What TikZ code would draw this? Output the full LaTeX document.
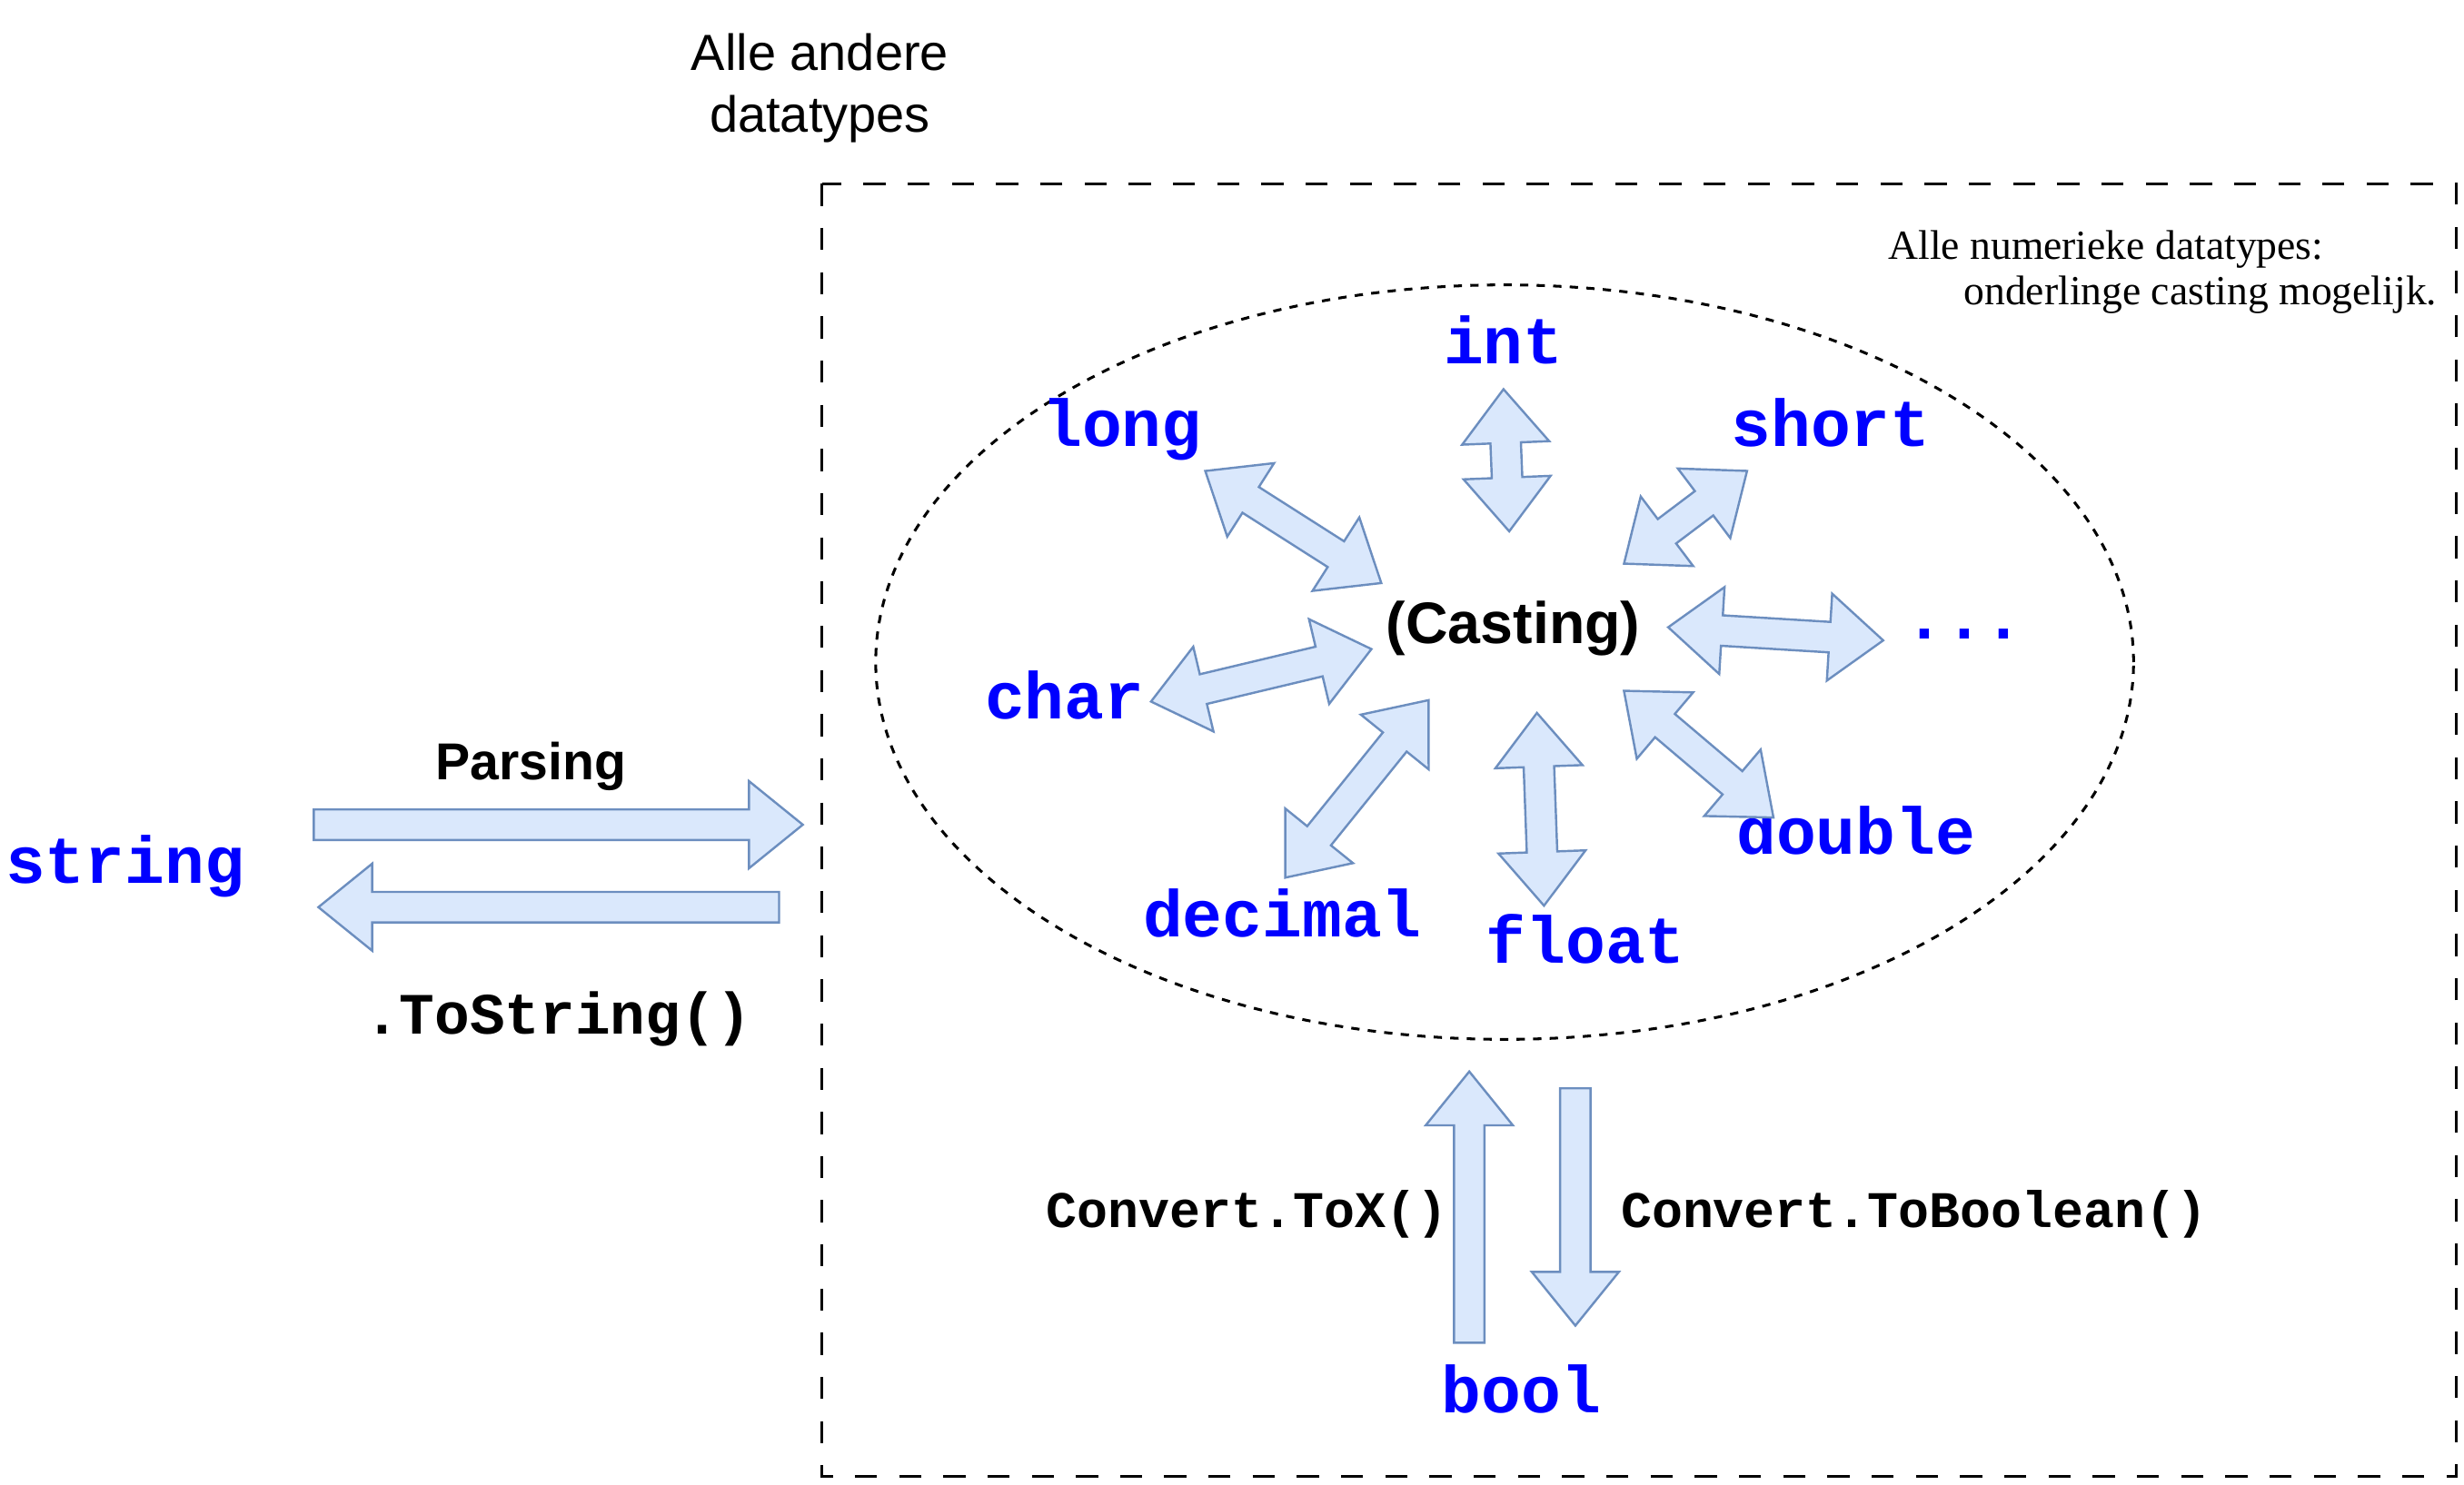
\documentclass[tikz,border=0pt]{standalone}
\usepackage{fontspec}
\setmainfont{Liberation Serif}
\setsansfont{Liberation Sans}
\setmonofont{Liberation Mono}
\usetikzlibrary{shapes.arrows, shapes.geometric}

\definecolor{pijlvul}{HTML}{DAE8FC}
\definecolor{pijlrand}{HTML}{6C8EBF}
\definecolor{typeblauw}{RGB}{0,0,255}

\tikzset{
    type/.style={font=\ttfamily\bfseries\fontsize{12}{14}\selectfont, text=typeblauw, anchor=base, inner sep=0pt},
    methode/.style={font=\ttfamily\bfseries\fontsize{9.3}{11}\selectfont, anchor=base, inner sep=0pt},
    kop/.style={font=\sffamily\fontsize{9.2}{10}\selectfont, anchor=base, inner sep=0pt},
    noot/.style={font=\rmfamily\fontsize{7.5}{8.3}\selectfont, anchor=base west, inner sep=0pt},
    blok/.style={draw=pijlrand, fill=pijlvul, line width=0.4pt, inner sep=0pt, inner ysep=0.09cm, minimum width=0.54cm},
    dubbel/.style={blok, double arrow, double arrow head extend=0.18cm, double arrow tip angle=78},
    enkel/.style={blok, single arrow, single arrow head extend=0.18cm, single arrow tip angle=78, anchor=tip}
}

\begin{document}
\begin{tikzpicture}[x=0.01cm, y=-0.01cm]
    \useasboundingbox (0,0) rectangle (1568,945.3);

    % Frames
    \draw[line width=0.5pt, dash pattern=on 4pt off 4pt] (523,117) rectangle (1563,940);
    \node[draw, ellipse, line width=0.5pt, dash pattern=on 1.5pt off 1.5pt, minimum width=8cm, minimum height=4.8cm] (ovaal) at (957.5,421.5) {};

    % Titles
    \node[kop] (andere1) at (521.8,44.7) {Alle andere};
    \node[kop] (andere2) at (521.8,84.4) {datatypes};
    \node[noot] (noot1) at (1201,165) {Alle numerieke datatypes:};
    \node[noot] (noot2) at (1249,194) {onderlinge casting mogelijk.};

    % Types
    \node[font=\sffamily\bfseries\fontsize{10.6}{12}\selectfont, anchor=base, inner sep=0pt] (cast) at (963,409.7) {(Casting)};
    \node[type] (int) at (956.8,231.6) {int};
    \node[type] (long) at (714,284) {long};
    \node[type] (short) at (1165,284) {short};
    \node[type] (char) at (677.5,457.5) {char};
    \node[type] (dots) at (1250,406.7) {...};
    \node[type] (double) at (1181,544) {double};
    \node[type] (decimal) at (816,596.3) {decimal};
    \node[type] (float) at (1009,613.4) {float};
    \node[type] (string) at (79.5,562.5) {string};
    \node[type] (bool) at (968,899.5) {bool};

    % Casting arrows
    \node[dubbel, minimum height=0.905cm, rotate=-87.7] (a-int) at (958.6,293) {};
    \node[dubbel, minimum height=1.327cm, rotate=-32.5] (a-long) at (823,335.5) {};
    \node[dubbel, minimum height=0.98cm, rotate=37] (a-short) at (1072.6,329.3) {};
    \node[dubbel, minimum height=1.37cm, rotate=-3.5] (a-dots) at (1130,403.5) {};
    \node[dubbel, minimum height=1.441cm, rotate=13.4] (a-char) at (802.6,429.9) {};
    \node[dubbel, minimum height=1.451cm, rotate=51.1] (a-decimal) at (863.5,502.2) {};
    \node[dubbel, minimum height=1.227cm, rotate=-87.9] (a-float) at (980.3,515.2) {};
    \node[dubbel, minimum height=1.247cm, rotate=-40.3] (a-double) at (1081,480.1) {};

    % Parsing and ToString
    \node[enkel, minimum height=3.11cm] (a-parse) at (512,525) {};
    \node[enkel, minimum height=2.93cm, rotate=180] (a-tostring) at (201.5,577.5) {};
    \node[font=\sffamily\bfseries\fontsize{9.4}{11}\selectfont, anchor=base, inner sep=0pt] (parse) at (338,496.6) {Parsing};
    \node[methode, font=\ttfamily\bfseries\fontsize{10.6}{12}\selectfont] (tostring) at (355,658) {.ToString()};

    % Convert
    \node[enkel, minimum height=1.726cm, rotate=90] (a-tox) at (935,681) {};
    \node[enkel, minimum height=1.51cm, rotate=-90] (a-tobool) at (1002.5,845) {};
    \node[methode] (tox) at (793.5,781.5) {Convert.ToX()};
    \node[methode] (tobool) at (1218,781.5) {Convert.ToBoolean()};
\end{tikzpicture}
\end{document}
